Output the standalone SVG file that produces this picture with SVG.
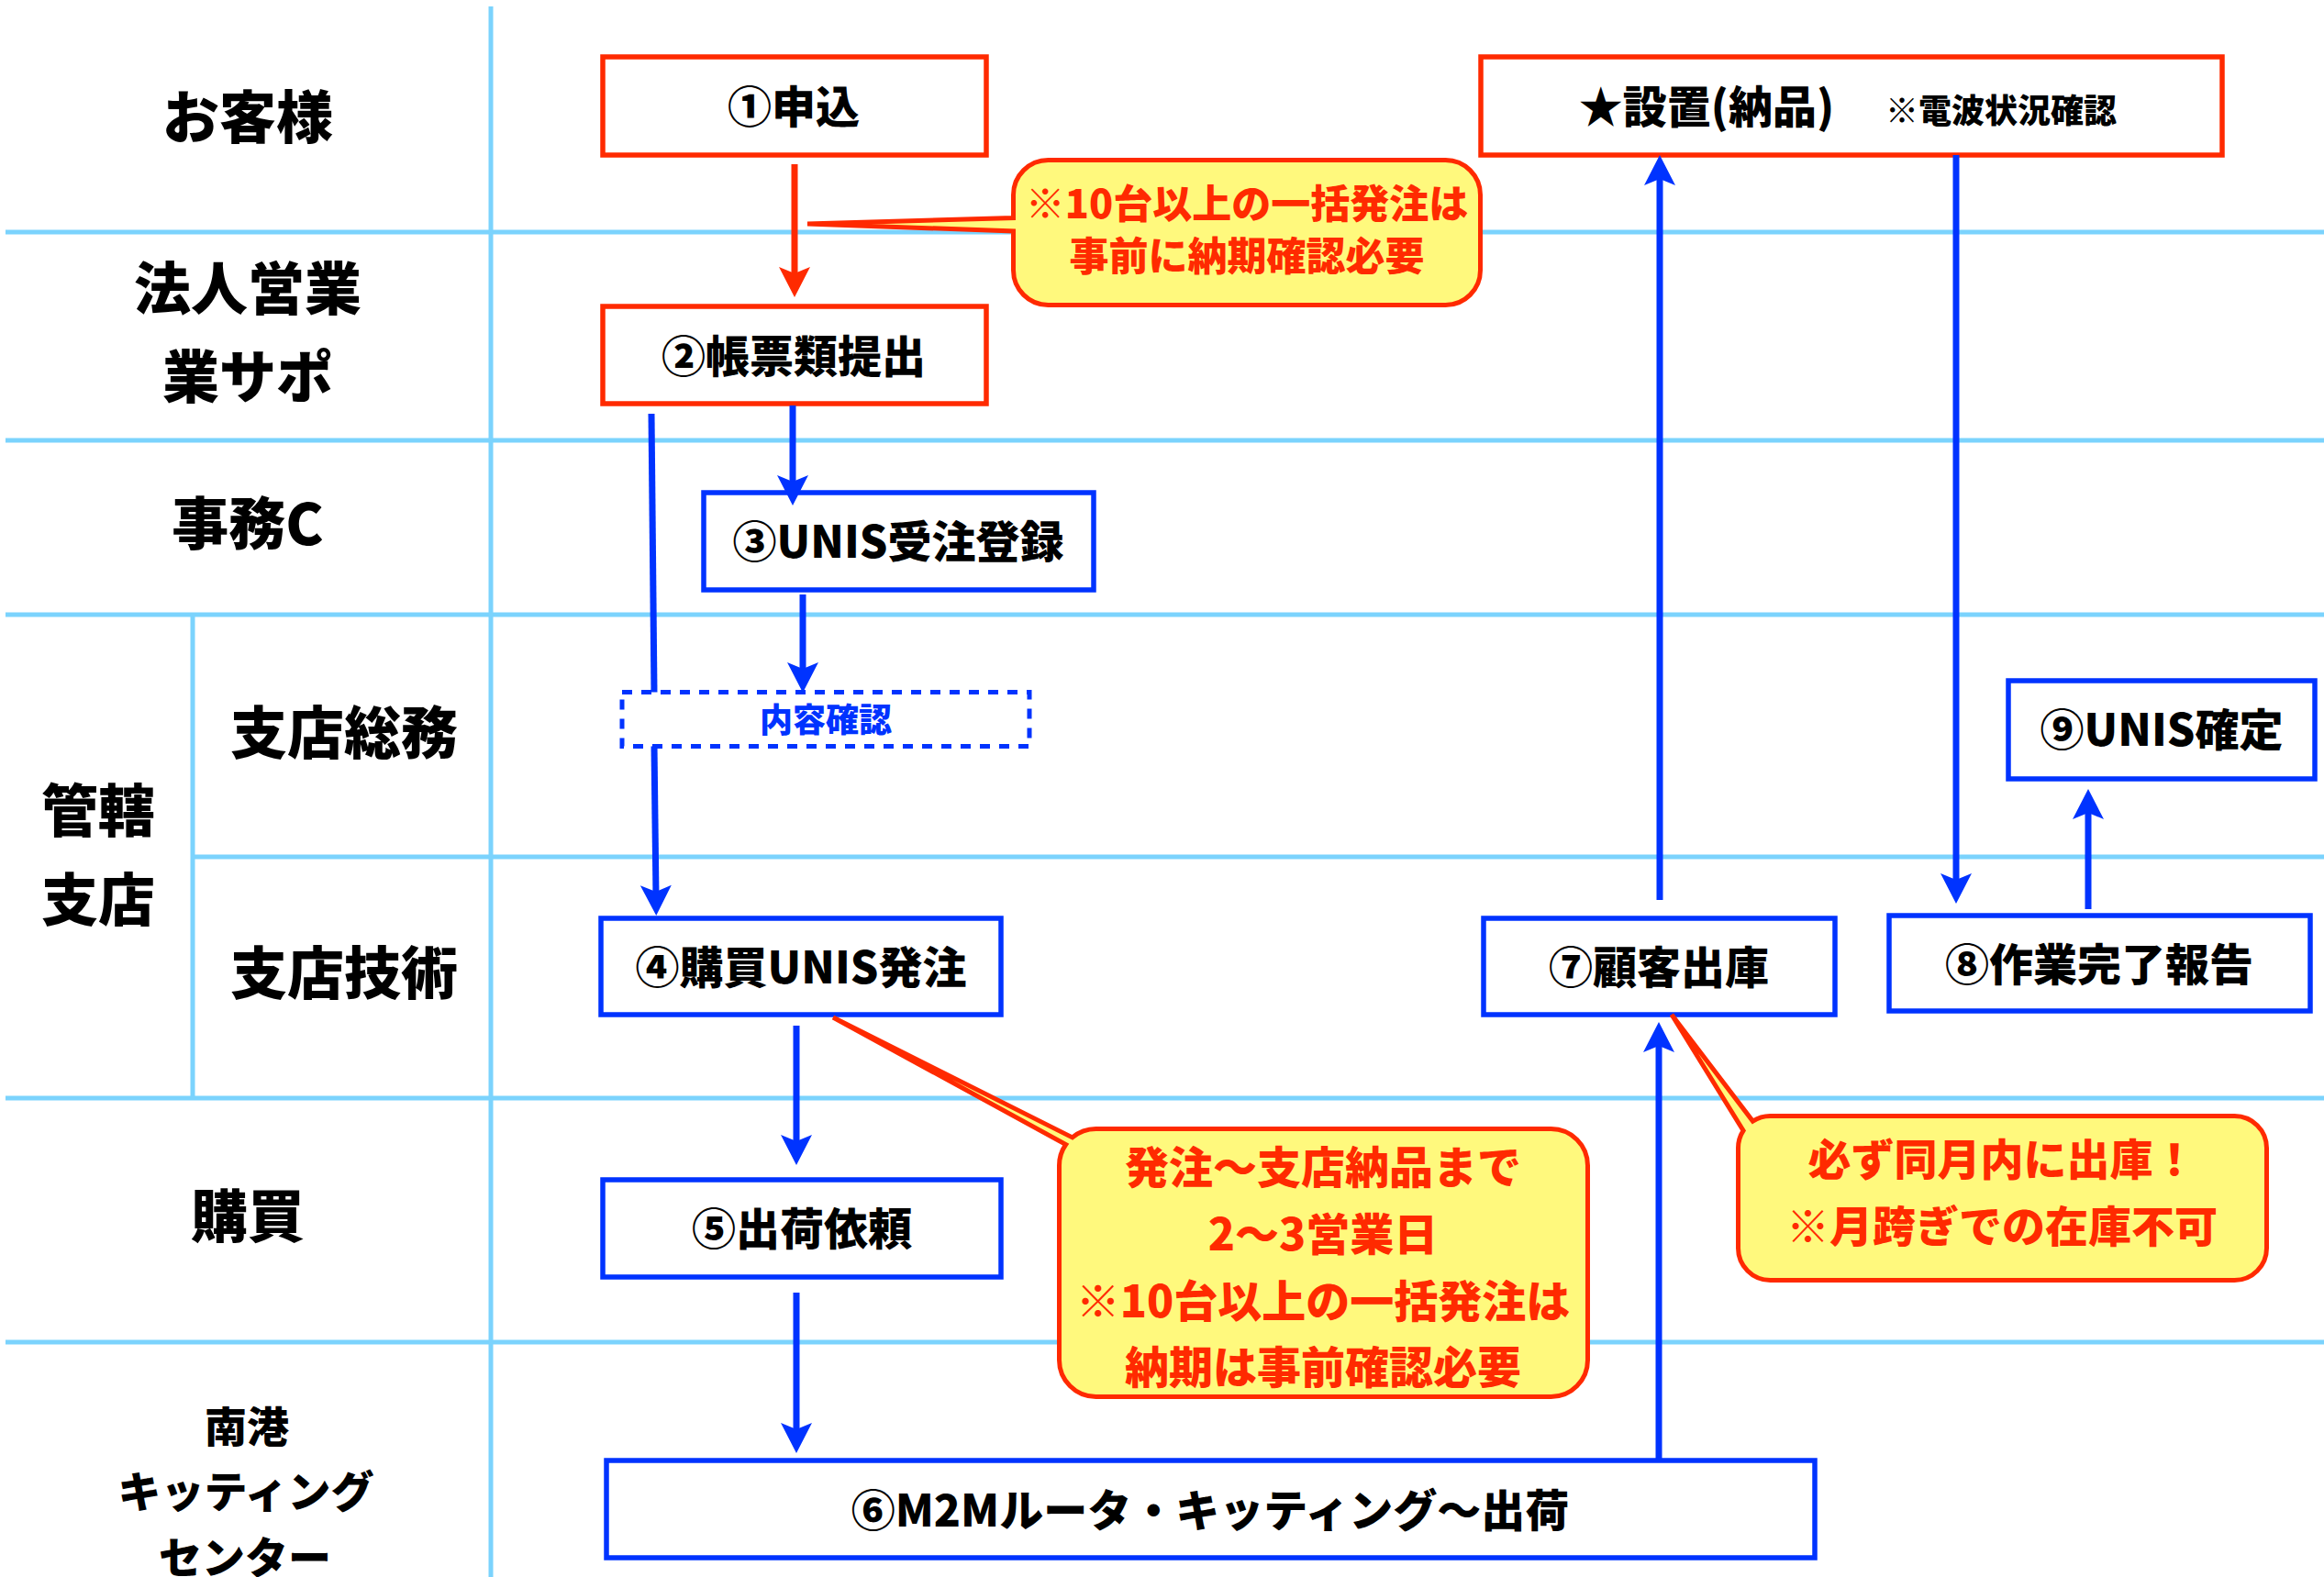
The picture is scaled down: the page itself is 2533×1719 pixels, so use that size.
<svg xmlns="http://www.w3.org/2000/svg" width="2533" height="1719" viewBox="0 0 2533 1719">
<style>
text{font-family:"Noto Sans CJK JP","Noto Sans CJK SC",sans-serif;font-weight:900;text-anchor:middle}
.lane{stroke:#7BD3FD;stroke-width:5;fill:none}
.lbl{font-size:62px;fill:#000}
.lbls{font-size:47px;fill:#000}
.box{fill:#fff;stroke-width:5.5}
.r{stroke:#FF2A00}
.b{stroke:#0033FF}
.bt{font-size:48px;fill:#000}
.con{stroke:#0033FF;stroke-width:7;fill:none}
.conr{stroke:#FF2A00;stroke-width:7;fill:none}
.call{fill:#FFF97D;stroke:#FF2A00;stroke-width:5;stroke-linejoin:miter}
.ct{fill:#FF2A00}
</style>
<defs>
<marker id="ab" markerUnits="userSpaceOnUse" markerWidth="60" markerHeight="60" refX="0" refY="0" orient="auto" overflow="visible"><path d="M20,0 L-13,-17 L-6,0 L-13,17 Z" fill="#0033FF"/></marker>
<marker id="ar" markerUnits="userSpaceOnUse" markerWidth="60" markerHeight="60" refX="0" refY="0" orient="auto" overflow="visible"><path d="M20,0 L-13,-17 L-6,0 L-13,17 Z" fill="#FF2A00"/></marker>
</defs>
<rect width="2533" height="1719" fill="#fff"/>
<g id="lanes">
<line class="lane" x1="6" y1="253" x2="2533" y2="253"/>
<line class="lane" x1="6" y1="480" x2="2533" y2="480"/>
<line class="lane" x1="6" y1="670" x2="2533" y2="670"/>
<line class="lane" x1="210" y1="934" x2="2533" y2="934"/>
<line class="lane" x1="6" y1="1197" x2="2533" y2="1197"/>
<line class="lane" x1="6" y1="1463" x2="2533" y2="1463"/>
<line class="lane" x1="535" y1="7" x2="535" y2="1719"/>
<line class="lane" x1="210" y1="670" x2="210" y2="1197"/>
<text class="lbl" x="270" y="151">お客様</text>
<text class="lbl" x="270" y="338">法人営業</text>
<text class="lbl" x="270" y="434">業サポ</text>
<text class="lbl" x="270" y="594">事務C</text>
<text class="lbl" x="375" y="822">支店総務</text>
<text class="lbl" x="375" y="1084">支店技術</text>
<text class="lbl" x="107" y="907">管轄</text>
<text class="lbl" x="107" y="1004">支店</text>
<text class="lbl" x="270" y="1349">購買</text>
<text class="lbls" x="269" y="1572" style="font-size:46px">南港</text>
<text class="lbls" x="268" y="1643">キッティング</text>
<text class="lbls" x="267" y="1715">センター</text>
</g>
<g id="n1"><rect class="box r" x="657" y="62" width="418" height="107"/><text class="bt" x="865" y="134">①申込</text></g>
<g id="n2"><rect class="box r" x="657" y="334" width="418" height="106"/><text class="bt" x="865" y="406">②帳票類提出</text></g>
<g id="n3"><rect class="box b" x="767" y="537" width="425" height="106"/><text class="bt" x="979" y="608">③UNIS受注登録</text></g>
<g id="n4"><rect class="box b" x="655" y="1001" width="436" height="105"/><text class="bt" x="873" y="1072">④購買UNIS発注</text></g>
<g id="n5"><rect class="box b" x="657" y="1286" width="434" height="106"/><text class="bt" x="874" y="1357">⑤出荷依頼</text></g>
<g id="n6"><rect class="box b" x="661" y="1592" width="1317" height="106"/><text class="bt" x="1319" y="1664">⑥M2Mルータ・キッティング〜出荷</text></g>
<g id="n7"><rect class="box b" x="1617" y="1001" width="383" height="105"/><text class="bt" x="1808" y="1072">⑦顧客出庫</text></g>
<g id="n8"><rect class="box b" x="2059" y="998" width="459" height="104"/><text class="bt" x="2288" y="1069">⑧作業完了報告</text></g>
<g id="n9"><rect class="box b" x="2189" y="742" width="334" height="107"/><text class="bt" x="2356" y="813">⑨UNIS確定</text></g>
<g id="nstar"><rect class="box r" x="1614" y="62" width="808" height="107"/><text class="bt" x="1860" y="134">★設置(納品)</text><text x="2181" y="134" style="font-size:36px;fill:#000">※電波状況確認</text></g>
<g id="connectors">
<path class="conr" d="M866,179 L866,304" marker-end="url(#ar)"/>
<path class="con" d="M864,442 L864,531" marker-end="url(#ab)"/>
<path class="con" d="M875,648 L875,735" marker-end="url(#ab)"/>
<path class="con" d="M710,451 L713,756"/>
<path class="con" d="M713,812 L715,978" marker-end="url(#ab)"/>
<path class="con" d="M868,1118 L868,1250" marker-end="url(#ab)"/>
<path class="con" d="M868,1409 L868,1564" marker-end="url(#ab)"/>
<path class="con" d="M1808,1591 L1808,1134" marker-end="url(#ab)"/>
<path class="con" d="M1809,981 L1809,189" marker-end="url(#ab)"/>
<path class="con" d="M2132,169 L2132,965" marker-end="url(#ab)"/>
<path class="con" d="M2276,991 L2276,880" marker-end="url(#ab)"/>
</g>
<g id="check"><rect x="678" y="754.5" width="444" height="59" fill="#fff" stroke="#0033FF" stroke-width="5" stroke-dasharray="11 10"/><text x="900" y="798" style="font-size:36px;fill:#0033FF">内容確認</text></g>
<g id="callout1">
<path class="call" d="M1142.5,174.5 H1575.5 A38,38 0 0 1 1613.5,212.5 V294.5 A38,38 0 0 1 1575.5,332.5 H1142.5 A38,38 0 0 1 1104.5,294.5 V252 L880,244 L1104.5,237.5 V212.5 A38,38 0 0 1 1142.5,174.5 Z"/>
<text class="ct" x="1359" y="238" style="font-size:43px">※10台以上の一括発注は</text>
<text class="ct" x="1359" y="295" style="font-size:43px">事前に納期確認必要</text>
</g>
<g id="callout3">
<path class="call" d="M1194.5,1230.5 H1690.5 A40,40 0 0 1 1730.5,1270.5 V1482.5 A40,40 0 0 1 1690.5,1522.5 H1194.5 A40,40 0 0 1 1154.5,1482.5 V1270.5 A40,40 0 0 1 1161.7,1247.5 L908,1109 L1168.8,1239.9 A40,40 0 0 1 1194.5,1230.5 Z"/>
<text class="ct" x="1442" y="1290" style="font-size:48px">発注〜支店納品まで</text>
<text class="ct" x="1442" y="1363" style="font-size:48px">2〜3営業日</text>
<text class="ct" x="1442" y="1436" style="font-size:48px">※10台以上の一括発注は</text>
<text class="ct" x="1442" y="1508" style="font-size:48px">納期は事前確認必要</text>
</g>
<g id="callout2">
<path class="call" d="M1929.5,1216.5 H2435.5 A35,35 0 0 1 2470.5,1251.5 V1360.5 A35,35 0 0 1 2435.5,1395.5 H1929.5 A35,35 0 0 1 1894.5,1360.5 V1251.5 A35,35 0 0 1 1900.1,1232.4 L1822,1106 L1910.4,1222.1 A35,35 0 0 1 1929.5,1216.5 Z"/>
<text class="ct" x="2182" y="1281" style="font-size:47px">必ず同月内に出庫！</text>
<text class="ct" x="2182" y="1354" style="font-size:47px">※月跨ぎでの在庫不可</text>
</g>
</svg>
